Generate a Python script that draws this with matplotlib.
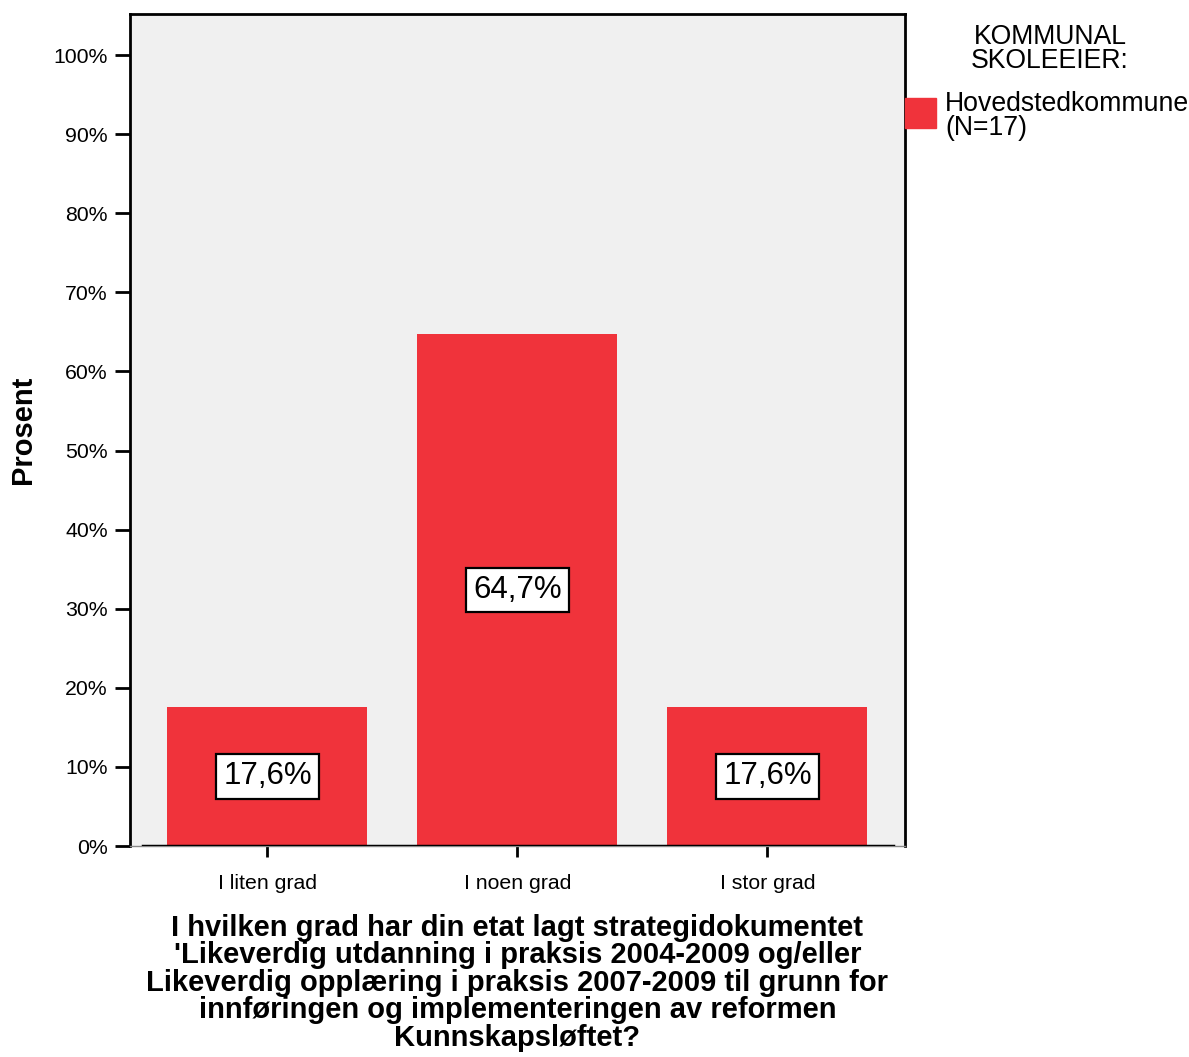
import numpy as np
import matplotlib
matplotlib.use('Agg')
import matplotlib.pyplot as plt
from matplotlib.patches import Rectangle

plt.rcParams['font.family'] = ['Liberation Sans', 'DejaVu Sans']

# categories and shares (percent)
categories = ['I liten grad', 'I noen grad', 'I stor grad']
values = [17.6, 64.7, 17.6]
value_labels = ['17,6%', '64,7%', '17,6%']
yticks = [0, 10, 20, 30, 40, 50, 60, 70, 80, 90, 100]

bar_color = '#F0333B'
bg_color = '#F0F0F0'

fig = plt.figure(figsize=(11.89, 10.57), dpi=100)
ax = fig.add_axes([0.1093, 0.1996, 0.6518, 0.7872])
ax.set_facecolor(bg_color)

x = np.arange(len(categories))
ax.bar(x, values, width=0.8, color=bar_color, zorder=2)

for xi, v, lab in zip(x, values, value_labels):
    ax.text(xi, v / 2, lab, ha='center', va='center', fontsize=22.5, zorder=3,
            bbox=dict(boxstyle='square,pad=0.23', fc='white', ec='black', lw=1.6))

ax.set_xlim(-0.55, 2.55)
ax.set_ylim(0, 105.2)
ax.set_yticks(yticks)
ax.set_yticklabels([f'{t}%' for t in yticks], fontsize=15.3)
ax.set_xticks(x)
ax.set_xticklabels(categories, fontsize=15.3)
ax.tick_params(axis='y', length=11, width=2, pad=5)
ax.tick_params(axis='x', length=8, width=2, pad=12)

# black baseline inside the frame
ax.axhline(0, xmin=0.017, xmax=0.985, color='black', lw=2.5, zorder=4)

for side in ['left', 'top', 'right']:
    ax.spines[side].set_linewidth(2)
    ax.spines[side].set_color('black')
ax.spines['bottom'].set_linewidth(1)
ax.spines['bottom'].set_color('#888888')

ax.set_ylabel('Prosent', fontsize=21, fontweight='bold')
ax.yaxis.set_label_coords(-0.12, 0.5)
ax.set_xlabel("I hvilken grad har din etat lagt strategidokumentet\n"
              "'Likeverdig utdanning i praksis 2004-2009 og/eller\n"
              "Likeverdig opplæring i praksis 2007-2009 til grunn for\n"
              "innføringen og implementeringen av reformen\n"
              "Kunnskapsløftet?",
              fontsize=21, fontweight='bold', linespacing=0.98, labelpad=15)

# legend
fig.text(1050 / 1189, 1 - 49 / 1057, 'KOMMUNAL\nSKOLEEIER:', ha='center', va='center',
         fontsize=19.2, linespacing=0.95)
fig.patches.append(Rectangle((905 / 1189, 1 - 128 / 1057), 31 / 1189, 30 / 1057,
                             transform=fig.transFigure, color=bar_color, zorder=5))
fig.text(945 / 1189, 1 - 116 / 1057, 'Hovedstedkommune\n(N=17)', ha='left', va='center',
         fontsize=19.2, linespacing=0.92)

fig.savefig('out.png', dpi=100)
